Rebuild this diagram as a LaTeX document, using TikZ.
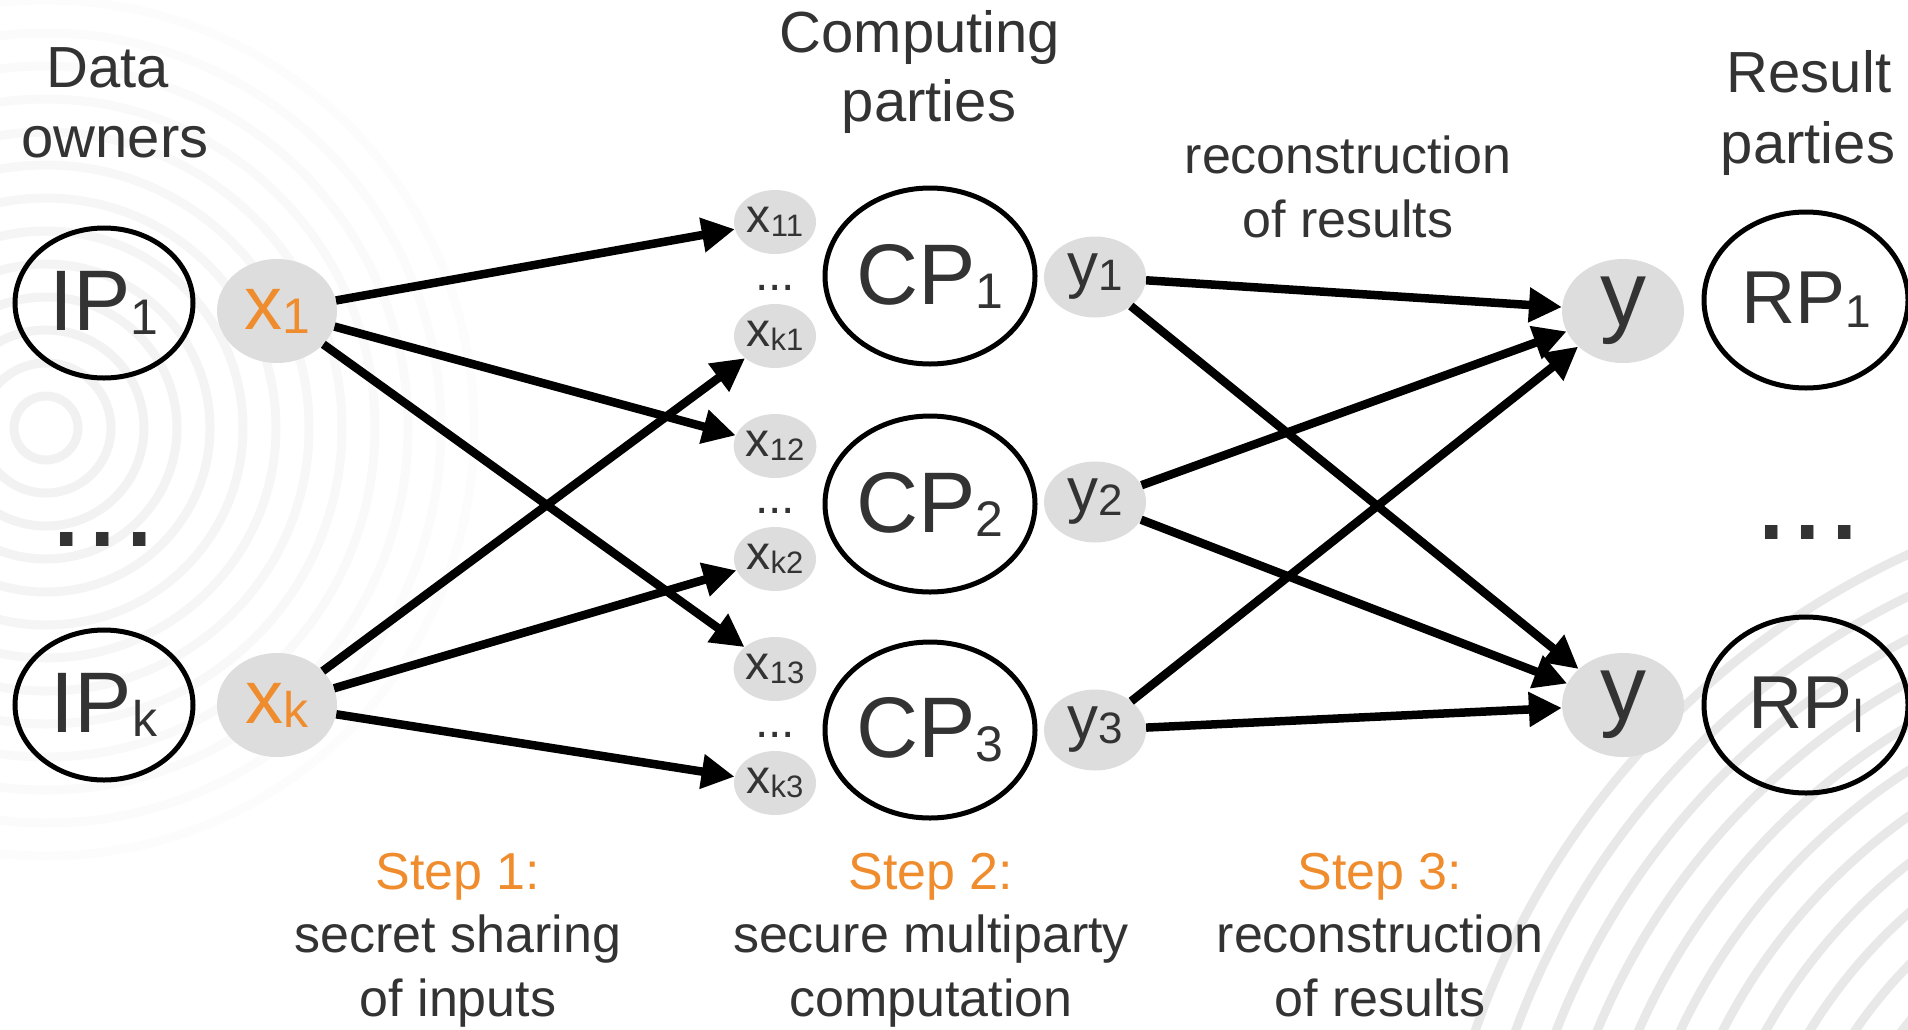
\documentclass[tikz,border=0pt]{standalone}
\usepackage{fontspec}
\setmainfont{Liberation Sans}
\usetikzlibrary{shapes.geometric,arrows.meta}

\definecolor{txtgray}{RGB}{51,51,51}
\definecolor{orng}{RGB}{239,140,45}
\definecolor{lightfill}{RGB}{221,221,221}
\newcommand{\fsz}[1]{\fontsize{#1}{#1}\selectfont}
\newcommand{\lowix}[2]{\raisebox{-4pt}{\fsz{#1}#2}}

\begin{document}
\begin{tikzpicture}[x=1pt, y=-1pt,
    party/.style={ellipse, draw=black, line width=5pt, inner sep=0pt, text=txtgray},
    share/.style={ellipse, fill=lightfill, inner sep=0pt, text=txtgray},
    head/.style={anchor=base, text=txtgray, font=\fsz{58}},
    desc/.style={anchor=base, text=txtgray, font=\fsz{52}},
    arr/.style={line width=8.5pt, -{Triangle[length=33pt, width=33pt]}}]
    \useasboundingbox (0,0) rectangle (1908,1029);

    % fundo
    \begin{scope}
        \clip (0,0) rectangle (1908,1029);
        \foreach \r [evaluate=\r as \op using {0.06-\r/9000}] in {32,65,...,460}
            \draw[black, opacity=\op, line width=9pt] (46,428) circle (\r pt);
        \foreach \r in {440,478,...,820}
            \draw[black!9, line width=9pt] (2250,1300) circle (\r pt);
    \end{scope}

    % titulos
    \node[head] (ownA) at (108,87) {Data};
    \node[head] (ownB) at (115,157) {owners};
    \node[head] (cmpA) at (920,52) {Computing};
    \node[head] (cmpB) at (929,121) {parties};
    \node[desc] (recA) at (1348,173) {reconstruction};
    \node[desc] (recB) at (1348,237) {of results};
    \node[head] (resA) at (1809,92) {Result};
    \node[head] (resB) at (1808,163) {parties};

    % donos dos dados
    \node[party, minimum width=178pt, minimum height=150pt, font=\fsz{86}] (ip1) at (104,303) {IP\lowix{50}{1}};
    \node[party, minimum width=178pt, minimum height=150pt, font=\fsz{86}] (ipk) at (104,705) {IP\lowix{50}{k}};
    \node[text=txtgray, font=\fsz{131}] (ipdots) at (103,539) {...};
    \node[share, minimum width=120pt, minimum height=104pt, text=orng, font=\fsz{76}] (x1) at (277,311) {x\lowix{50}{1}};
    \node[share, minimum width=120pt, minimum height=104pt, text=orng, font=\fsz{76}] (xk) at (277,705) {x\lowix{50}{k}};

    % partilhas
    \node[share, minimum width=82pt, minimum height=64pt, font=\fsz{48}] (x11) at (775,222) {x\lowix{31}{11}};
    \node[text=txtgray, font=\fsz{48}] (dt1) at (775,288) {...};
    \node[share, minimum width=82pt, minimum height=64pt, font=\fsz{48}] (xk1) at (775,336) {x\lowix{31}{k1}};
    \node[share, minimum width=82pt, minimum height=64pt, font=\fsz{48}] (x12) at (775,446) {x\lowix{31}{12}};
    \node[text=txtgray, font=\fsz{48}] (dt2) at (775,511) {...};
    \node[share, minimum width=82pt, minimum height=64pt, font=\fsz{48}] (xk2) at (775,559) {x\lowix{31}{k2}};
    \node[share, minimum width=82pt, minimum height=64pt, font=\fsz{48}] (x13) at (775,669) {x\lowix{31}{13}};
    \node[text=txtgray, font=\fsz{48}] (dt3) at (775,735) {...};
    \node[share, minimum width=82pt, minimum height=64pt, font=\fsz{48}] (xk3) at (775,783) {x\lowix{31}{k3}};

    % partes computadoras
    \node[party, minimum width=210pt, minimum height=176pt, font=\fsz{86}] (cp1) at (930,276) {CP\lowix{50}{1}};
    \node[party, minimum width=210pt, minimum height=176pt, font=\fsz{86}] (cp2) at (930,504) {CP\lowix{50}{2}};
    \node[party, minimum width=210pt, minimum height=176pt, font=\fsz{86}] (cp3) at (930,730) {CP\lowix{50}{3}};
    \node[share, minimum width=102pt, minimum height=81pt, font=\fsz{62}] (y1) at (1095,277) {y\lowix{44}{1}};
    \node[share, minimum width=102pt, minimum height=81pt, font=\fsz{62}] (y2) at (1095,502) {y\lowix{44}{2}};
    \node[share, minimum width=102pt, minimum height=81pt, font=\fsz{62}] (y3) at (1095,730) {y\lowix{44}{3}};

    % resultado
    \node[share, minimum width=122pt, minimum height=104pt, font=\fsz{92}] (ya) at (1623,311) {y};
    \node[share, minimum width=122pt, minimum height=104pt, font=\fsz{92}] (yb) at (1623,705) {y};
    \node[party, minimum width=204pt, minimum height=176pt, font=\fsz{75}] (rp1) at (1806,300) {RP\lowix{46}{1}};
    \node[party, minimum width=204pt, minimum height=176pt, font=\fsz{75}] (rpl) at (1806,705) {RP\lowix{46}{l}};
    \node[text=txtgray, font=\fsz{131}] (rpdots) at (1808,532) {...};

    % passos
    \node[desc, text=orng] (st1) at (458,889) {Step 1:};
    \node[desc] (st1a) at (458,952) {secret sharing};
    \node[desc] (st1b) at (458,1016) {of inputs};
    \node[desc, text=orng] (st2) at (931,889) {Step 2:};
    \node[desc] (st2a) at (931,952) {secure multiparty};
    \node[desc] (st2b) at (931,1016) {computation};
    \node[desc, text=orng] (st3) at (1380,889) {Step 3:};
    \node[desc] (st3a) at (1380,952) {reconstruction};
    \node[desc] (st3b) at (1380,1016) {of results};

    \draw[arr] (x1) -- (x11);
    \draw[arr] (x1) -- (x12);
    \draw[arr] (x1) -- (x13);
    \draw[arr] (xk) -- (xk1);
    \draw[arr] (xk) -- (xk2);
    \draw[arr] (xk) -- (xk3);

    \draw[arr] (y1) -- (ya);
    \draw[arr] (y1) -- (yb);
    \draw[arr] (y2) -- (ya);
    \draw[arr] (y2) -- (yb);
    \draw[arr] (y3) -- (ya);
    \draw[arr] (y3) -- (yb);
\end{tikzpicture}
\end{document}
